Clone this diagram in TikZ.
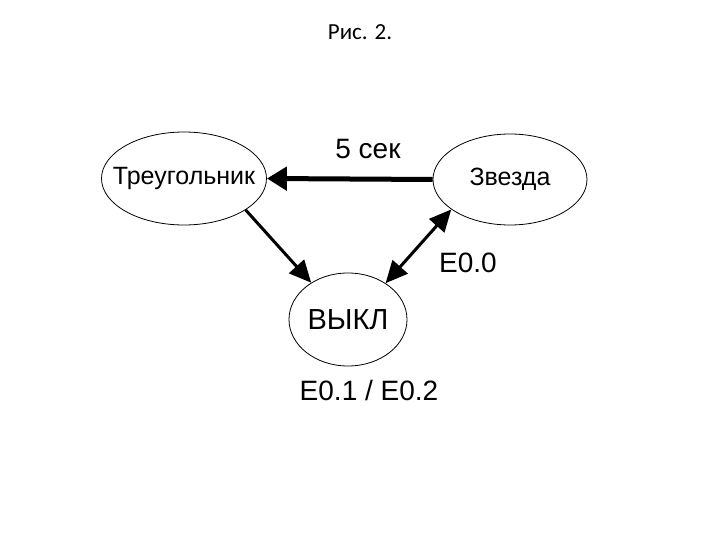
\documentclass[tikz,border=0pt]{standalone}
\usepackage{fontspec}
\setmainfont{Liberation Sans}
\newfontfamily\titlefont{Carlito}
\usetikzlibrary{arrows.meta,shapes.geometric}

\begin{document}
\begin{tikzpicture}[x=1pt, y=-1pt,
	state/.style={draw, ellipse, line width=.8pt, inner sep=0pt, font=\fontsize{25}{30}\selectfont},
	lbl/.style={font=\fontsize{28}{32}\selectfont},
	trans/.style={line width=3pt, -{Triangle[length=22pt, width=20pt]}}]
	\useasboundingbox (0,0) rectangle (720,540);
	
	% title
	\node[font=\titlefont\fontsize{23}{28}\selectfont] (title) at (360,32) {Рис. 2.};
	
	% states
	\node[state, minimum width=165pt, minimum height=93pt] (tri) at (184,178.5) {\makebox[0pt]{Треугольник}};
	\node[state, minimum width=154pt, minimum height=91pt] (star) at (510,179.5) {Звезда};
	\node[state, minimum width=118pt, minimum height=93pt, font=\fontsize{29}{32}\selectfont] (off) at (348,319.5) {ВЫКЛ};
	
	% transitions
	\draw[line width=5pt, -{Triangle[length=20pt, width=23pt]}] (star.west) -- (tri.east);
	\draw[trans] (tri.-27) -- (off.135);
	\draw[trans, {Triangle[length=22pt, width=20pt]}-{Triangle[length=22pt, width=20pt]}] (off.44) -- (star.207);
	
	% labels
	\node[lbl] (t5) at (368,149) {5 сек};
	\node[lbl] (e00) at (468,263) {E0.0};
	\node[lbl] (e12) at (369,390) {E0.1 / E0.2};
\end{tikzpicture}
\end{document}
